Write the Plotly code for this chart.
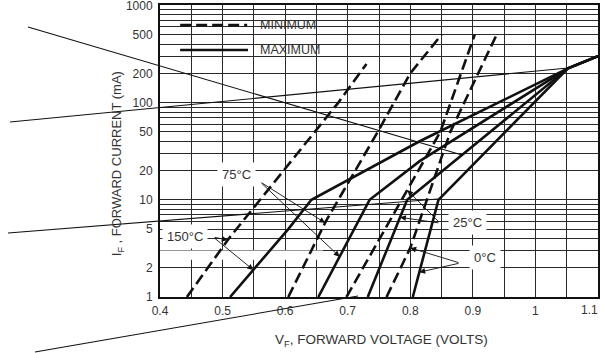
import numpy as np
import plotly.graph_objects as go

# Forward current sample points (mA) and forward voltage (V) for each curve
i_150_min = [1, 4, 10, 25, 100, 250]
v_150_min = [0.443, 0.51, 0.56, 0.61, 0.685, 0.73]
i_150_max = [1, 5, 10, 40, 225, 300]
v_150_max = [0.512, 0.605, 0.642, 0.815, 1.052, 1.10]

i_75_min = [1, 6, 50, 200, 500]
v_75_min = [0.605, 0.665, 0.748, 0.800, 0.85]
i_75_max = [1, 10, 25, 225, 300]
v_75_max = [0.653, 0.735, 0.815, 1.052, 1.10]

i_25_min = [1, 50, 500]
v_25_min = [0.698, 0.848, 0.903]
i_25_max = [1, 10, 225, 300]
v_25_max = [0.732, 0.795, 1.052, 1.10]

i_0_min = [1, 3.2, 50, 500]
v_0_min = [0.762, 0.80, 0.864, 0.938]
i_0_max = [1, 10, 225, 300]
v_0_max = [0.804, 0.845, 1.052, 1.10]

x_ticks = [0.4, 0.5, 0.6, 0.7, 0.8, 0.9, 1.0, 1.1]
x_tick_text = ["0.4", "0.5", "0.6", "0.7", "0.8", "0.9", "1", "1.1"]
y_ticks = [1, 2, 5, 10, 20, 50, 100, 200, 500, 1000]
y_minor = [m * 10 ** d for d in range(3) for m in range(1, 10)] + [1000]

DASH = "11px,5px"
INK = "#111"
TXT = "#333"
FONT = "Liberation Sans, Arial, sans-serif"

curves = [
    (i_150_min, v_150_min, DASH),
    (i_150_max, v_150_max, "solid"),
    (i_75_min, v_75_min, DASH),
    (i_75_max, v_75_max, "solid"),
    (i_25_min, v_25_min, DASH),
    (i_25_max, v_25_max, "solid"),
    (i_0_min, v_0_min, DASH),
    (i_0_max, v_0_max, "solid"),
]

fig = go.Figure()
for cur, volt, dash in curves:
    fig.add_trace(go.Scatter(
        x=volt, y=cur, mode="lines",
        line=dict(color=INK, width=2.6, dash=dash),
        showlegend=False, hoverinfo="skip",
    ))


def v_at(cur, volt, i):
    """Voltage on a curve at current i (interpolated in log-current)."""
    return float(np.interp(np.log10(i), np.log10(cur), volt))


# Temperature labels: (text, label pos (V, mA), leader tail (V, mA), arrow targets)
labels = [
    ("75°C", (0.5215, 18.4), (0.560, 15.3),
     [(i_75_min, v_75_min, 5.8), (i_75_max, v_75_max, 2.6)]),
    ("150°C", (0.440, 4.24), (0.485, 4.14),
     [(i_150_min, v_150_min, 3.85), (i_150_max, v_150_max, 1.9)]),
    ("25°C", (0.8907, 5.9), (0.8475, 5.76),
     [(i_25_min, v_25_min, 12.6), (i_25_max, v_25_max, 6.6)]),
    ("0°C", (0.919, 2.52), (0.8795, 2.235),
     [(i_0_min, v_0_min, 3.2), (i_0_max, v_0_max, 1.8)]),
]

annotations = []
for text, (lx, li), (tx, ti), targets in labels:
    annotations.append(dict(
        x=lx, y=np.log10(li), xref="x", yref="y", text=text, showarrow=False,
        xanchor="center", yanchor="middle",
        font=dict(family=FONT, size=13, color=TXT), bgcolor="white", borderpad=4,
    ))
    for cur, volt, i in targets:
        annotations.append(dict(
            x=v_at(cur, volt, i), y=np.log10(i), xref="x", yref="y",
            ax=tx, ay=np.log10(ti), axref="x", ayref="y", text="",
            showarrow=True, arrowhead=2, arrowsize=1.3, arrowwidth=0.9,
            arrowcolor=INK, standoff=0,
        ))

# Legend drawn by hand in the upper-left corner, plus axis titles
annotations += [
    dict(x=0.2245, y=0.931, xref="paper", yref="paper", text="MINIMUM",
         showarrow=False, xanchor="left", yanchor="middle",
         font=dict(family=FONT, size=12.5, color=TXT)),
    dict(x=0.2245, y=0.846, xref="paper", yref="paper", text="MAXIMUM",
         showarrow=False, xanchor="left", yanchor="middle",
         font=dict(family=FONT, size=12.5, color=TXT)),
    dict(x=-0.098, y=0.455, xref="paper", yref="paper", textangle=-90,
         text="I<sub>F</sub> , FORWARD CURRENT (mA)", showarrow=False,
         xanchor="center", yanchor="middle",
         font=dict(family=FONT, size=13, color=TXT)),
    dict(x=0.505, y=-0.15, xref="paper", yref="paper",
         text="V<sub>F</sub>, FORWARD VOLTAGE (VOLTS)", showarrow=False,
         xanchor="center", yanchor="middle",
         font=dict(family=FONT, size=13.5, color=TXT)),
    # last voltage label, kept flush with the right edge of the frame
    dict(x=x_ticks[-1], y=-0.046, xref="x", yref="paper", text=x_tick_text[-1],
         showarrow=False, xanchor="right", yanchor="middle", xshift=2,
         font=dict(family=FONT, size=12, color=TXT)),
]

# Long leader lines running off the left side of the frame (paper units)
W, H = 438.0, 292.0
leaders = [
    ((28, 27), (462, 155)),
    ((10, 122), (568, 68)),
    ((8, 233), (438, 199)),
    ((35, 352), (358, 296)),
]
shapes = [
    dict(type="rect", xref="x", yref="y", x0=0.4, x1=0.6605,
         y0=np.log10(260), y1=3.01, fillcolor="white", line=dict(width=0),
         layer="between"),
    dict(type="line", xref="paper", yref="paper", x0=0.046, x1=0.199,
         y0=0.931, y1=0.931, line=dict(color=INK, width=2.6, dash=DASH)),
    dict(type="line", xref="paper", yref="paper", x0=0.046, x1=0.201,
         y0=0.846, y1=0.846, line=dict(color=INK, width=2.6)),
]
for (x0, y0), (x1, y1) in leaders:
    shapes.append(dict(
        type="line", xref="paper", yref="paper",
        x0=(x0 - 160) / W, y0=(297 - y0) / H,
        x1=(x1 - 160) / W, y1=(297 - y1) / H,
        line=dict(color=INK, width=1.1),
    ))

grid = dict(showgrid=True, gridcolor="#2a2a2a", gridwidth=1)

fig.update_layout(
    width=600, height=353,
    margin=dict(l=160, r=2, t=5, b=56, autoexpand=False),
    paper_bgcolor="white", plot_bgcolor="white",
    showlegend=False,
    annotations=annotations, shapes=shapes,
    font=dict(family=FONT, size=12, color=TXT),
    xaxis=dict(
        range=[0.4, 1.1], tickmode="array", tickvals=x_ticks[:-1],
        ticktext=x_tick_text[:-1],
        ticks="", tickfont=dict(size=12, color=TXT), ticklabelstandoff=2,
        ticklabeloverflow="allow", automargin=False,
        showline=True, linecolor=INK, linewidth=2, mirror=True,
        zeroline=False, **grid,
        minor=dict(dtick=0.05, tick0=0.4, showgrid=True, gridcolor="#2a2a2a",
                   gridwidth=1, ticks=""),
    ),
    yaxis=dict(
        type="log", range=[0, 3.004], tickmode="array", tickvals=y_ticks,
        ticktext=[str(v) for v in y_ticks], ticks="",
        tickfont=dict(size=12, color=TXT), ticklabelstandoff=3,
        ticklabeloverflow="allow", automargin=False,
        showline=True, linecolor=INK, linewidth=2, mirror=True,
        zeroline=False, **grid,
        minor=dict(tickmode="array", tickvals=y_minor, showgrid=True,
                   gridcolor="#2a2a2a", gridwidth=1, ticks=""),
    ),
)

fig.write_html("out.html")
